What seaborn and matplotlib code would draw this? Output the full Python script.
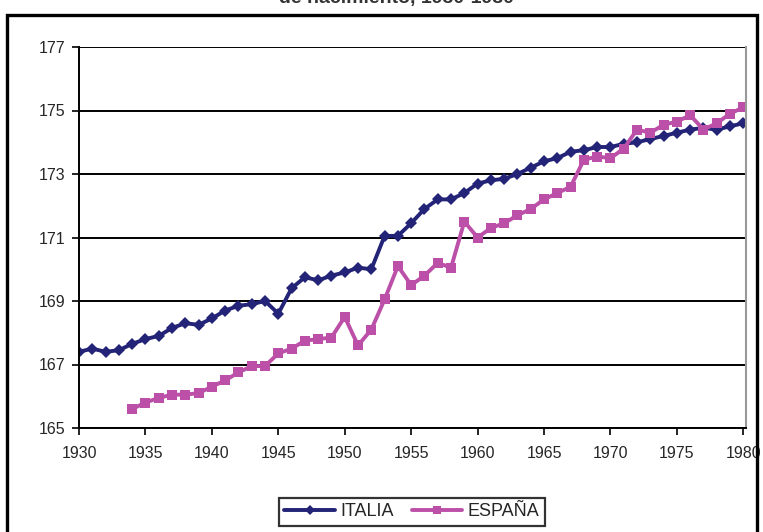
import matplotlib
matplotlib.use("Agg")
import matplotlib.pyplot as plt
import matplotlib.patches as mpatches
import seaborn as sns
import pandas as pd

years_italia = list(range(1930, 1981))
italia = [167.4, 167.5, 167.4, 167.45, 167.65, 167.8, 167.9, 168.15, 168.3, 168.25,
          168.45, 168.7, 168.85, 168.9, 169.0, 168.6, 169.4, 169.75, 169.65, 169.8,
          169.9, 170.05, 170.0, 171.05, 171.05, 171.45, 171.9, 172.2, 172.2, 172.4,
          172.7, 172.8, 172.85, 173.0, 173.2, 173.4, 173.5, 173.7, 173.75, 173.85,
          173.85, 173.95, 174.0, 174.1, 174.2, 174.3, 174.4, 174.45, 174.4, 174.5,
          174.6]

years_espana = list(range(1934, 1981))
espana = [165.6, 165.8, 165.95, 166.05, 166.05, 166.1, 166.3, 166.5, 166.75, 166.95,
          166.95, 167.35, 167.5, 167.75, 167.8, 167.85, 168.5, 167.6, 168.1, 169.05,
          170.1, 169.5, 169.8, 170.2, 170.05, 171.5, 171.0, 171.3, 171.45, 171.7,
          171.9, 172.2, 172.4, 172.6, 173.45, 173.55, 173.5, 173.8, 174.4, 174.3,
          174.55, 174.65, 174.85, 174.4, 174.6, 174.9, 175.1]

series_names = ["ITALIA", "ESPAÑA"]
x_ticks = list(range(1930, 1981, 5))
y_ticks = list(range(165, 178, 2))
title_text = "de nacimiento, 1930-1980"

df = pd.concat([
    pd.DataFrame({"year": years_italia, "value": italia, "serie": series_names[0]}),
    pd.DataFrame({"year": years_espana, "value": espana, "serie": series_names[1]}),
])

sns.set_style("white")
plt.rcParams["font.family"] = ["Liberation Sans", "DejaVu Sans"]

fig = plt.figure(figsize=(7.63, 5.32), dpi=100)
ax = fig.add_axes([79 / 763, 1 - 428 / 532, (746 - 79) / 763, (428 - 47) / 532])

palette = {"ITALIA": "#232377", "ESPAÑA": "#BC4FA8"}
sns.lineplot(data=df, x="year", y="value", hue="serie", style="serie",
             markers={"ITALIA": "D", "ESPAÑA": "s"}, dashes=False,
             palette=palette, linewidth=2.8, markersize=6.5,
             markeredgewidth=0, ax=ax, legend=False)

ax.set_xlim(1930, 1980.2)
ax.set_ylim(165, 177)
ax.set_xticks(x_ticks)
ax.set_yticks(y_ticks)
ax.set_xlabel("")
ax.set_ylabel("")
ax.tick_params(axis="both", labelsize=11.5, length=5, width=1.2, color="black",
               direction="out")
ax.tick_params(axis="x", bottom=True, pad=8)
ax.tick_params(axis="y", left=True, pad=5)
ax.grid(axis="y", color="black", linewidth=1.4)
ax.grid(axis="x", visible=False)
for side in ["left", "bottom"]:
    ax.spines[side].set_color("black")
    ax.spines[side].set_linewidth(1.4)
ax.spines["top"].set_visible(False)
ax.spines["right"].set_color("#999999")
ax.spines["right"].set_linewidth(1.5)

handles = [
    plt.Line2D([], [], color=palette["ITALIA"], marker="D", markersize=5.5, lw=2.8,
               markeredgewidth=0),
    plt.Line2D([], [], color=palette["ESPAÑA"], marker="s", markersize=6, lw=2.8,
               markeredgewidth=0),
]
leg = fig.legend(handles, series_names, loc="center", bbox_to_anchor=(412 / 763, 1 - 512 / 532),
                 ncol=2, frameon=True, fancybox=False, fontsize=13,
                 handlelength=2.8, handletextpad=0.3, columnspacing=1.0,
                 borderpad=0.3, edgecolor="black")
leg.get_frame().set_linewidth(1.6)

fig.text(396 / 763, 1.0 + 2 / 532, title_text, ha="center", va="center", fontsize=14,
         fontweight="bold", color="#333333")

frame = mpatches.Rectangle((7 / 763, -0.05), (757 - 7) / 763, 1.05 - 15 / 532,
                           transform=fig.transFigure, fill=False,
                           edgecolor="black", linewidth=2.4)
fig.patches.append(frame)

fig.savefig("out.png", dpi=100)
